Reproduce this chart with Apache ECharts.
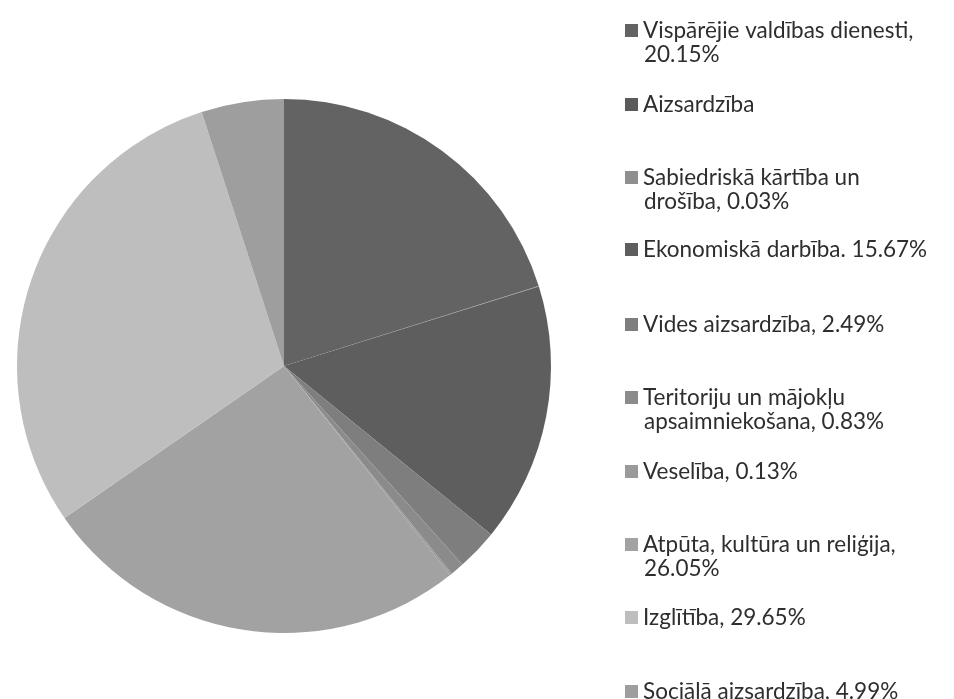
<!DOCTYPE html>
<html>
<head>
<meta charset="utf-8">
<script src="https://cdn.jsdelivr.net/npm/echarts@6/dist/echarts.min.js"></script>
<style>
html,body{margin:0;padding:0;background:#fff;}
#chart{width:954px;height:699px;}
</style>
</head>
<body>
<div id="chart"></div>
<script>
// Data
const categories = [
  "Vispārējie valdības dienesti",
  "Aizsardzība",
  "Sabiedriskā kārtība un drošība",
  "Ekonomiskā darbība",
  "Vides aizsardzība",
  "Teritoriju un mājokļu apsaimniekošana",
  "Veselība",
  "Atpūta, kultūra un reliģija",
  "Izglītība",
  "Sociālā aizsardzība"
];
const values = [20.15, 0.01, 0.03, 15.67, 2.49, 0.83, 0.13, 26.05, 29.65, 4.99];
const legendFirstLines = [
  "Vispārējie valdības dienesti,",
  "Aizsardzība",
  "Sabiedriskā kārtība un",
  "Ekonomiskā darbība. 15.67%",
  "Vides aizsardzība, 2.49%",
  "Teritoriju un mājokļu",
  "Veselība, 0.13%",
  "Atpūta, kultūra un reliģija,",
  "Izglītība, 29.65%",
  "Sociālā aizsardzība, 4.99%"
];
const legendSecondLines = ["20.15%", "", "drošība, 0.03%", "", "", "apsaimniekošana, 0.83%", "", "26.05%", "", ""];

// Styles / layout
const palette = ["#636363", "#5b5b5b", "#8f8f8f", "#5e5e5e", "#7e7e7e", "#8b8b8b", "#9a9a9a", "#a2a2a2", "#bebebe", "#9e9e9e"];
const rowCenters = [26, 100, 173, 245, 320, 393, 467, 540, 613, 687];
const linePitch = 29;
const FONT = "Lato";
const FS = 22.5;
const textColor = "#2e2e2e";

const legends = categories.map((c, i) => ({
  data: [c],
  left: 625,
  top: rowCenters[i] - 7,
  padding: 0,
  orient: 'vertical',
  itemWidth: 13,
  itemHeight: 13,
  icon: 'rect',
  selectedMode: false,
  formatter: () => legendFirstLines[i],
  textStyle: { fontFamily: FONT, fontSize: FS, color: textColor, lineHeight: 14 }
}));

const titles = [];
legendSecondLines.forEach((t, i) => {
  if (t) {
    titles.push({
      text: t,
      left: 644,
      top: rowCenters[i] + linePitch - 7,
      padding: 0,
      textStyle: { fontFamily: FONT, fontSize: FS, color: textColor, fontWeight: 'normal', lineHeight: 14 }
    });
  }
});

const chart = echarts.init(document.getElementById('chart'));
chart.setOption({
  animation: false,
  color: palette,
  title: titles,
  legend: legends,
  series: [{
    type: 'pie',
    center: [284, 366],
    radius: 267,
    startAngle: 90,
    clockwise: true,
    label: { show: false },
    labelLine: { show: false },
    emphasis: { disabled: true },
    itemStyle: { borderWidth: 0 },
    data: categories.map((c, i) => ({ name: c, value: values[i] }))
  }]
});
</script>
</body>
</html>
